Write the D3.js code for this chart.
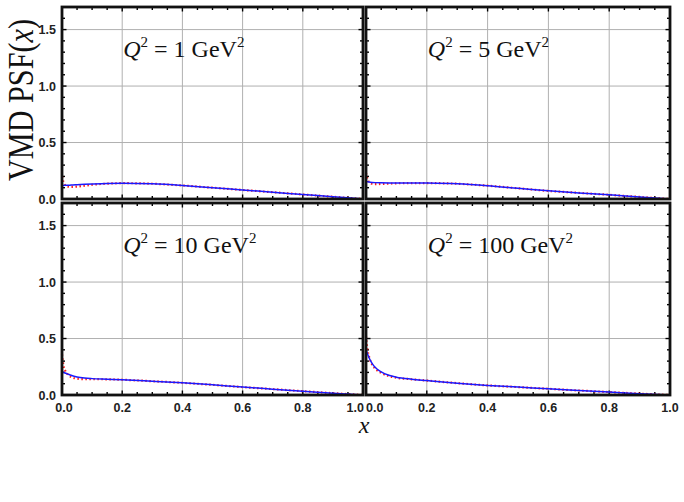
<!DOCTYPE html>
<html><head><meta charset="utf-8">
<script src="https://cdn.jsdelivr.net/npm/d3@7"></script>
<style>body{margin:0;background:#fff}svg{display:block}</style>
</head><body>
<svg id="c" width="684" height="502"></svg>
<script>
// ---- data ----
const panelLabels = ["1", "5", "10", "100"];
const xTicks = [0, 0.2, 0.4, 0.6, 0.8, 1.0];
const yTicks = [0, 0.5, 1.0, 1.5];
const blueX = [0, 0.01, 0.02, 0.03, 0.05, 0.075, 0.1, 0.15, 0.2, 0.3, 0.4, 0.5, 0.6, 0.7, 0.8, 0.9, 1.0];
const blueQ1   = [0.120, 0.121, 0.122, 0.123, 0.126, 0.130, 0.133, 0.138, 0.140, 0.135, 0.120, 0.100, 0.080, 0.060, 0.040, 0.020, 0.0];
const blueQ5   = [0.155, 0.150, 0.147, 0.145, 0.143, 0.142, 0.142, 0.142, 0.141, 0.135, 0.118, 0.095, 0.072, 0.054, 0.037, 0.018, 0.0];
const blueQ10  = [0.205, 0.195, 0.185, 0.175, 0.160, 0.150, 0.145, 0.140, 0.135, 0.122, 0.108, 0.090, 0.070, 0.052, 0.034, 0.016, 0.0];
const blueQ100 = [0.400, 0.330, 0.280, 0.245, 0.205, 0.175, 0.158, 0.140, 0.128, 0.105, 0.085, 0.070, 0.055, 0.040, 0.026, 0.012, 0.0];
const redX = [0, 0.005, 0.01, 0.02, 0.03, 0.05, 0.075, 0.1, 0.15, 0.2, 0.3, 0.4, 0.5, 0.6, 0.7, 0.8, 0.9, 1.0];
const redQ1   = [0.200, 0.150, 0.125, 0.110, 0.108, 0.110, 0.118, 0.126, 0.136, 0.140, 0.135, 0.120, 0.100, 0.080, 0.060, 0.040, 0.020, 0.0];
const redQ5   = [0.230, 0.175, 0.150, 0.135, 0.132, 0.133, 0.136, 0.139, 0.141, 0.141, 0.135, 0.118, 0.095, 0.072, 0.054, 0.037, 0.018, 0.0];
const redQ10  = [0.360, 0.260, 0.220, 0.180, 0.160, 0.145, 0.140, 0.140, 0.139, 0.135, 0.122, 0.108, 0.090, 0.070, 0.052, 0.034, 0.016, 0.0];
const redQ100 = [0.520, 0.400, 0.340, 0.270, 0.235, 0.195, 0.168, 0.153, 0.139, 0.128, 0.105, 0.085, 0.070, 0.055, 0.040, 0.026, 0.012, 0.0];
const blueSeries = [blueQ1, blueQ5, blueQ10, blueQ100];
const redSeries = [redQ1, redQ5, redQ10, redQ100];

// ---- layout ----
const svg = d3.select("#c");
const panels = [
  {x0: 62, x1: 363, y0: 7, y1: 199, left: true, bottom: false},
  {x0: 366, x1: 670, y0: 7, y1: 199, left: false, bottom: false},
  {x0: 62, x1: 363, y0: 203, y1: 395, left: true, bottom: true},
  {x0: 366, x1: 670, y0: 203, y1: 395, left: false, bottom: true}
];
const tickFont = "'Liberation Sans', Arial, sans-serif";
const serif = "'Liberation Serif', 'Times New Roman', serif";

panels.forEach((p, i) => {
  const x = d3.scaleLinear().domain([0, 1]).range([p.x0, p.x1]);
  const y = d3.scaleLinear().domain([0, 1.7]).range([p.y1, p.y0]);
  const g = svg.append("g");

  // grid
  g.selectAll(".gx").data(xTicks.slice(1, -1)).join("line")
    .attr("x1", d => x(d)).attr("x2", d => x(d)).attr("y1", p.y0).attr("y2", p.y1)
    .attr("stroke", "#b0b0b0").attr("stroke-width", 1);
  g.selectAll(".gy").data(yTicks.slice(1)).join("line")
    .attr("x1", p.x0).attr("x2", p.x1).attr("y1", d => y(d)).attr("y2", d => y(d))
    .attr("stroke", "#b0b0b0").attr("stroke-width", 1);

  // minor ticks
  const xt = d3.range(0, 1.0001, 0.05);
  const yt = d3.range(0, 1.70001, 0.1);
  xt.forEach(v => {
    const major = Math.abs(v / 0.2 - Math.round(v / 0.2)) < 1e-6;
    const L = major ? 4.5 : 3;
    g.append("line").attr("x1", x(v)).attr("x2", x(v)).attr("y1", p.y1).attr("y2", p.y1 - L).attr("stroke", "#000").attr("stroke-width", 1.4);
    g.append("line").attr("x1", x(v)).attr("x2", x(v)).attr("y1", p.y0).attr("y2", p.y0 + L).attr("stroke", "#000").attr("stroke-width", 1.4);
  });
  yt.forEach(v => {
    const major = Math.abs(v / 0.5 - Math.round(v / 0.5)) < 1e-6;
    const L = major ? 4.5 : 3;
    g.append("line").attr("x1", p.x0).attr("x2", p.x0 + L).attr("y1", y(v)).attr("y2", y(v)).attr("stroke", "#000").attr("stroke-width", 1.4);
    g.append("line").attr("x1", p.x1).attr("x2", p.x1 - L).attr("y1", y(v)).attr("y2", y(v)).attr("stroke", "#000").attr("stroke-width", 1.4);
  });

  // curves
  const line = d3.line().curve(d3.curveMonotoneX);
  g.append("path")
    .attr("d", line(redX.map((v, k) => [x(v), y(redSeries[i][k])])))
    .attr("fill", "none").attr("stroke", "#ff1a1a").attr("stroke-width", 2.2)
    .attr("stroke-dasharray", "1.5,2.5");
  g.append("path")
    .attr("d", line(blueX.map((v, k) => [x(v), y(blueSeries[i][k])])))
    .attr("fill", "none").attr("stroke", "#1a1aff").attr("stroke-width", 1.5);

  // frame
  g.append("rect").attr("x", p.x0).attr("y", p.y0).attr("width", p.x1 - p.x0).attr("height", p.y1 - p.y0)
    .attr("fill", "none").attr("stroke", "#111").attr("stroke-width", 2.8);

  // tick labels
  if (p.left) {
    g.selectAll(".yl").data(yTicks).join("text")
      .attr("x", p.x0 - 6).attr("y", d => y(d)).attr("dy", "0.36em")
      .attr("text-anchor", "end").attr("font-family", tickFont).attr("font-weight", "bold")
      .attr("font-size", 12.5).attr("fill", "#222")
      .text(d => d.toFixed(1));
  }
  if (p.bottom) {
    g.selectAll(".xl").data(xTicks).join("text")
      .attr("x", d => x(d)).attr("y", p.y1 + 17)
      .attr("text-anchor", (d, k) => (p.left && k === xTicks.length - 1) ? "end" : (!p.left && k === 0) ? "start" : "middle")
      .attr("dx", (d, k) => (p.left && k === xTicks.length - 1) ? 1 : (p.left && k === 0) ? 2 : 0)
      .attr("font-family", tickFont).attr("font-weight", "bold")
      .attr("font-size", 12.5).attr("fill", "#222")
      .text(d => d.toFixed(1));
  }

  // annotation
  const t = g.append("text").attr("x", x(0.2) + 1).attr("y", p.y0 + 50)
    .attr("font-family", serif).attr("font-size", 24).attr("fill", "#111");
  t.append("tspan").attr("font-style", "italic").text("Q");
  t.append("tspan").attr("font-size", 15).attr("dy", -10).text("2");
  t.append("tspan").attr("dy", 10).text(" = " + panelLabels[i] + " GeV");
  t.append("tspan").attr("font-size", 15).attr("dy", -10).text("2");
});

// axis titles
const yt = svg.append("text").attr("transform", "translate(33,100) rotate(-90) scale(0.84,1)")
  .attr("text-anchor", "middle").attr("font-family", serif).attr("font-size", 36).attr("fill", "#111");
yt.append("tspan").text("VMD PSF(");
yt.append("tspan").attr("font-style", "italic").text("x");
yt.append("tspan").text(")");

svg.append("text").attr("x", 364).attr("y", 433).attr("text-anchor", "middle")
  .attr("font-family", serif).attr("font-style", "italic").attr("font-size", 24).attr("fill", "#111").text("x");
</script>
</body></html>
